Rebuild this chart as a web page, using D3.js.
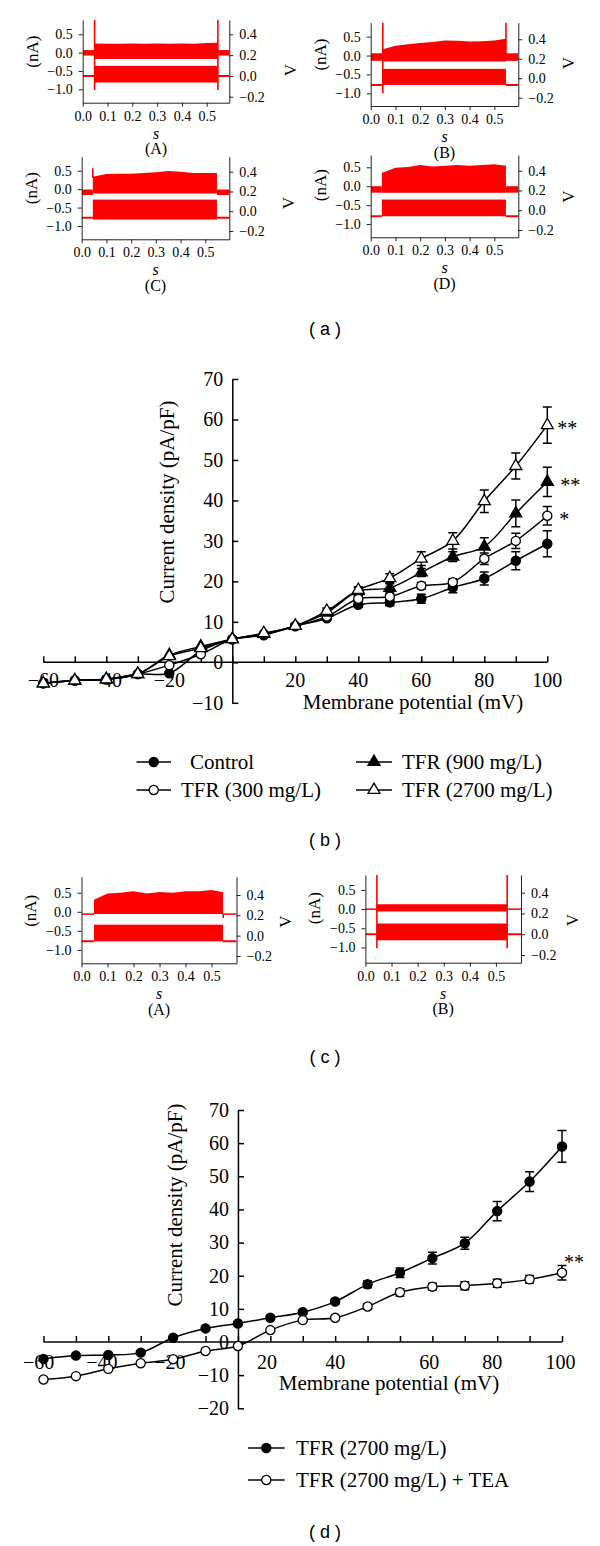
<!DOCTYPE html>
<html><head><meta charset="utf-8">
<script src="https://cdn.jsdelivr.net/npm/d3@7"></script>
<style>
body{margin:0;background:#fff}
svg{display:block}
text{font-family:"Liberation Serif","Times New Roman",serif;fill:#000}
.plab{font-family:"Liberation Sans",Arial,sans-serif}
</style></head><body>
<svg id="c" width="600" height="1546"></svg>
<script>
// ================= DATA =================
// I-V curves, panel (b)
const potentials = [-60,-50,-40,-30,-20,-10,0,10,20,30,40,50,60,70,80,90,100];
const control     = [-5.2,-4.5,-4.2,-2.9,-2.7,2.8,5.7,6.7,8.9,10.9,14.2,14.8,15.7,18.5,20.7,25.1,29.3];
const control_err = [0.3,0.3,0.3,0.3,0.4,0.4,0.4,0.4,0.5,0.5,0.6,0.8,1.1,1.3,1.6,2.2,3.2];
const tfr300      = [-5.2,-4.5,-4.2,-2.9,-0.7,2.0,5.7,7.0,9.0,11.3,15.7,16.2,18.9,19.8,25.6,30.0,36.2];
const tfr300_err  = [0.3,0.3,0.3,0.3,0.4,0.4,0.4,0.4,0.5,0.5,0.8,0.8,0.8,0.8,1.4,1.9,2.3];
const tfr900      = [-5.2,-4.5,-4.2,-2.9,1.8,3.9,5.7,7.0,9.0,12.3,17.6,18.4,22.2,26.1,28.6,36.8,44.6];
const tfr900_err  = [0.3,0.3,0.3,0.3,0.4,0.4,0.4,0.4,0.5,0.6,0.8,1.0,1.0,1.2,2.2,3.3,3.6];
const tfr2700     = [-5.2,-4.5,-4.2,-2.9,1.5,3.5,5.7,7.2,9.0,12.7,17.9,20.8,25.6,30.0,39.8,48.5,58.6];
const tfr2700_err = [0.3,0.3,0.3,0.3,0.4,0.4,0.4,0.4,0.5,0.7,0.8,1.1,1.7,2.0,2.8,3.2,4.5];
const bSeriesNames = ["Control","TFR (300 mg/L)","TFR (900 mg/L)","TFR (2700 mg/L)"];
const bYTicks = [-10,0,10,20,30,40,50,60,70];
const bXLabels = [-60,-40,-20,20,40,60,80,100];

// I-V curves, panel (d)
const tfr2700d     = [-5.1,-4.1,-3.9,-3.2,1.3,4.1,5.6,7.3,9.0,12.2,17.4,20.9,25.3,29.8,39.5,48.4,59.0];
const tfr2700d_err = [0.3,0.3,0.3,0.3,0.3,0.4,0.5,0.5,0.6,0.7,1.0,1.4,1.8,1.8,2.9,3.0,4.8];
const tea          = [-11.3,-10.3,-8.1,-6.4,-5.2,-2.7,-1.2,3.6,6.6,7.3,10.7,15.0,16.7,17.0,17.7,18.9,20.9];
const tea_err      = [0.3,0.3,0.3,0.3,0.3,0.3,0.3,0.5,0.5,0.5,0.8,1.1,1.0,1.2,1.2,1.2,2.2];
const dSeriesNames = ["TFR (2700 mg/L)","TFR (2700 mg/L) + TEA"];
const dYTicks = [-20,-10,0,10,20,30,40,50,60,70];
const dXLabelAt   = [-61.5,-42,-21,9,30,59,78.5,99.5];
const dXLabelText = ["−60","−40","−20","20","40","60","80","100"];

// Current traces (panels a and c): upper envelope of current family during step (nA)
const envT   = [0.05,0.10,0.15,0.20,0.25,0.30,0.35,0.40,0.45,0.50,0.54];
const aA_top = [0.25,0.24,0.24,0.25,0.24,0.25,0.24,0.25,0.24,0.26,0.27];
const aB_top = [0.17,0.26,0.30,0.33,0.36,0.40,0.39,0.37,0.38,0.40,0.44];
const aC_top = [0.34,0.41,0.42,0.42,0.44,0.46,0.49,0.47,0.44,0.44,0.44];
const aD_top = [0.36,0.49,0.51,0.56,0.52,0.54,0.56,0.54,0.56,0.58,0.55];
const cA_top = [0.32,0.48,0.50,0.54,0.48,0.52,0.50,0.54,0.54,0.57,0.52];
const cB_top = [0.13,0.13,0.13,0.13,0.13,0.13,0.13,0.13,0.13,0.13,0.13];
// levels: [stepStart s, stepEnd s, baseLo nA, baseHi nA, stepLo nA, holdV, stepVlo, stepVhi]
const aA_lev = [0.048,0.545,-0.08,0.07,-0.17,0.0,-0.064,0.096];
const aB_lev = [0.049,0.547,-0.14,0.06,-0.16,-0.069,-0.069,0.096];
const aC_lev = [0.045,0.547,-0.16,-0.01,-0.12,-0.067,-0.084,0.118];
const aD_lev = [0.045,0.547,-0.17,0.0,-0.17,-0.061,-0.061,0.108];
const cA_lev = [0.048,0.544,-0.08,-0.04,-0.06,-0.056,-0.056,0.108];
const cB_lev = [0.044,0.543,-0.02,0.02,-0.06,0.0,-0.058,0.103];
// capacitive spikes: [time s, low nA, high nA]
const aA_spk = [[0.048,-1.02,2],[0.545,-1.02,2]];
const aB_spk = [[0.049,-1.0,2],[0.547,0.0,2]];
const aC_spk = [[0.045,0.3,0.57]];
const aD_spk = [];
const cA_spk = [[0.545,-0.16,-0.06]];
const cB_spk = [[0.044,-1.02,2],[0.543,-1.02,2]];
const leftTicks = [-1.0,-0.5,0.0,0.5];
const rightTicks = [-0.2,0.0,0.2,0.4];
const timeTicks = [0,0.1,0.2,0.3,0.4,0.5];

// ================= DRAW =================
const svg = d3.select("#c");
const RED = "#ff0000";
const fmt1 = d3.format(".1f");

const traceLayouts = [
 {id:"aA", box:[82.7,229.3,20,102.7],   yL:[-1.365,0.89], yR:[-0.258,0.538], xMax:0.591, label:"(A)", vx:290, vy:70,    top:aA_top, lev:aA_lev, spk:aA_spk},
 {id:"aB", box:[370.7,518.3,22.7,106],  yL:[-1.336,0.87], yR:[-0.285,0.57],  xMax:0.597, label:"(B)", vx:568, vy:63,    top:aB_top, lev:aB_lev, spk:aB_spk},
 {id:"aC", box:[81.7,229.3,156.7,239.3],yL:[-1.36,0.88],  yR:[-0.284,0.552], xMax:0.597, label:"(C)", vx:288, vy:203,   top:aC_top, lev:aC_lev, spk:aC_spk},
 {id:"aD", box:[370.7,518.3,155,237.3], yL:[-1.35,0.825], yR:[-0.274,0.559], xMax:0.597, label:"(D)", vx:568, vy:196.7, top:aD_top, lev:aD_lev, spk:aD_spk},
 {id:"cA", box:[81.5,236.5,876.7,963.3],yL:[-1.35,0.92],  yR:[-0.272,0.58],  xMax:0.596, label:"(A)", vx:285, vy:921.7, top:cA_top, lev:cA_lev, spk:cA_spk},
 {id:"cB", box:[365.4,521,875,962.7],   yL:[-1.40,0.893], yR:[-0.274,0.57],  xMax:0.596, label:"(B)", vx:572, vy:920,   top:cB_top, lev:cB_lev, spk:cB_spk}
];

const defs = svg.append("defs");
traceLayouts.forEach(L => {
  const [x0,x1,y0,y1] = L.box;
  const x = d3.scaleLinear([0,L.xMax],[x0,x1]);
  const yl = d3.scaleLinear(L.yL,[y1,y0]);
  const yr = d3.scaleLinear(L.yR,[y1,y0]);
  defs.append("clipPath").attr("id","clip"+L.id).append("rect")
    .attr("x",x0).attr("y",y0).attr("width",x1-x0).attr("height",y1-y0);
  const g = svg.append("g");
  const tg = g.append("g").attr("clip-path",`url(#clip${L.id})`);
  const [t0,t1,bLo,bHi,sLo,vB,vLo,vHi] = L.lev;
  [[0,t0],[t1,L.xMax]].forEach(([a,b]) => {
    tg.append("rect").attr("x",x(a)).attr("width",x(b)-x(a))
      .attr("y",yl(bHi)).attr("height",yl(bLo)-yl(bHi)).attr("fill",RED);
  });
  const pts = [{t:t0,u:L.top[0]}].concat(envT.map((t,i)=>({t,u:L.top[i]}))).concat([{t:t1,u:L.top[L.top.length-1]}]);
  tg.append("path").datum(pts)
    .attr("d", d3.area().x(d=>x(d.t)).y0(yl(sLo)).y1(d=>yl(d.u)))
    .attr("fill",RED);
  [[0,t0],[t1,L.xMax]].forEach(([a,b]) => {
    tg.append("line").attr("x1",x(a)).attr("x2",x(b)).attr("y1",yr(vB)).attr("y2",yr(vB))
      .attr("stroke",RED).attr("stroke-width",2);
  });
  tg.append("rect").attr("x",x(t0)).attr("width",x(t1)-x(t0))
    .attr("y",yr(vHi)).attr("height",yr(vLo)-yr(vHi)).attr("fill",RED);
  L.spk.forEach(([t,lo,hi]) => {
    tg.append("line").attr("x1",x(t)).attr("x2",x(t)).attr("y1",yl(lo)).attr("y2",yl(hi))
      .attr("stroke",RED).attr("stroke-width",1.6);
  });
  const axL = d3.axisLeft(yl).tickValues(leftTicks).tickFormat(fmt1).tickSize(4).tickSizeOuter(0).tickPadding(6);
  const axR = d3.axisRight(yr).tickValues(rightTicks).tickFormat(fmt1).tickSize(4).tickSizeOuter(0).tickPadding(6);
  const axB = d3.axisBottom(x).tickValues(timeTicks).tickFormat(fmt1).tickSize(4).tickSizeOuter(0).tickPadding(4);
  [[axL,`translate(${x0},0)`],[axR,`translate(${x1},0)`],[axB,`translate(0,${y1})`]].forEach(([ax,tr]) => {
    const a = g.append("g").attr("transform",tr).call(ax);
    a.selectAll("path,line").attr("stroke","#222").attr("stroke-width",1);
    a.selectAll("text").attr("font-family","Liberation Serif, serif").attr("font-size",14).attr("fill","#000");
  });
  g.append("text").attr("transform",`translate(${x0-51},${yl(0)-1}) rotate(-90)`)
    .attr("text-anchor","middle").attr("dy","0.35em").attr("font-size",17).text("(nA)");
  g.append("text").attr("transform",`translate(${L.vx},${L.vy}) rotate(-90)`)
    .attr("text-anchor","middle").attr("dy","0.35em").attr("font-size",17).text("V");
  const cx = (x0+x1)/2;
  g.append("text").attr("x",cx).attr("y",y1+31).attr("dy","0.3em").attr("text-anchor","middle")
    .attr("font-size",16).attr("font-style","italic").text("s");
  g.append("text").attr("x",cx).attr("y",y1+46).attr("dy","0.35em").attr("text-anchor","middle")
    .attr("font-size",16).text(L.label);
});

[["( a )",329],["( b )",840],["( c )",1057],["( d )",1532]].forEach(([t,y]) => {
  svg.append("text").attr("class","plab").attr("x",325).attr("y",y).attr("dy","0.35em")
    .attr("text-anchor","middle").attr("font-size",18).text(t);
});

function markerPath(kind){
  if (kind==="circle") return d3.symbol(d3.symbolCircle).size(66)();
  return d3.symbol(d3.symbolTriangle).size(62)();
}
function ivChart(o){
  const g = svg.append("g");
  const x = o.x, y = o.y;
  const ay = g.append("g").attr("transform",`translate(${x(0)},0)`)
    .call(d3.axisLeft(y).tickValues(o.yTicks).tickSize(-6).tickSizeOuter(0).tickPadding(9).tickFormat(d=>d3.format("d")(d)));
  const ax = g.append("g").attr("transform",`translate(0,${y(0)})`)
    .call(d3.axisBottom(x).tickValues(potentials).tickSize(-6).tickSizeOuter(0).tickFormat(""));
  [ay,ax].forEach(a => {
    a.selectAll("path,line").attr("stroke","#000").attr("stroke-width",1.5);
    a.selectAll("text").attr("font-family","Liberation Serif, serif").attr("font-size",20).attr("fill","#000");
  });
  ax.select("path").attr("d",`M${x(-60)},0H${x(100)}`);
  o.xLabAt.forEach((v,i) => {
    g.append("text").attr("x",x(v)).attr("y",o.xLabY).attr("dy","0.35em").attr("text-anchor","middle")
      .attr("font-size",20).text(o.xLabText[i]);
  });
  g.append("text").attr("transform",`translate(${o.yTitle[0]},${o.yTitle[1]}) rotate(-90)`)
    .attr("text-anchor","middle").attr("dy","0.35em").attr("font-size",21).text("Current density (pA/pF)");
  g.append("text").attr("x",o.xTitle[0]).attr("y",o.xTitle[1]).attr("dy","0.35em")
    .attr("text-anchor","middle").attr("font-size",21).text("Membrane potential (mV)");
  const line = d3.line().x((d,i)=>x(potentials[i])).y(d=>y(d)).curve(d3.curveCatmullRom.alpha(0.5));
  o.series.forEach(s => {
    g.append("path").datum(s.v).attr("d",line).attr("fill","none").attr("stroke","#000").attr("stroke-width",1.5);
  });
  o.series.forEach(s => {
    s.v.forEach((v,i) => {
      const e = s.e[i], px = x(potentials[i]);
      if (e < 0.45) return;
      g.append("path").attr("d",`M${px},${y(v-e)}V${y(v+e)}M${px-4.5},${y(v-e)}H${px+4.5}M${px-4.5},${y(v+e)}H${px+4.5}`)
        .attr("stroke","#000").attr("stroke-width",1.5).attr("fill","none");
    });
  });
  o.series.forEach(s => {
    s.v.forEach((v,i) => {
      g.append("path").attr("d",markerPath(s.shape))
        .attr("transform",`translate(${x(potentials[i])},${y(v)})`)
        .attr("fill",s.fill).attr("stroke","#000").attr("stroke-width",1.3);
    });
  });
  o.stars.forEach(([t,v,dx]) => {
    g.append("text").attr("x",x(100)+dx).attr("y",y(v)+10).attr("font-size",20).text(t);
  });
  o.legend.forEach(L => {
    g.append("line").attr("x1",L.lx[0]).attr("x2",L.lx[1]).attr("y1",L.y).attr("y2",L.y)
      .attr("stroke","#000").attr("stroke-width",1.5);
    g.append("path").attr("d",markerPath(L.s.shape)).attr("transform",`translate(${(L.lx[0]+L.lx[1])/2},${L.y})`)
      .attr("fill",L.s.fill).attr("stroke","#000").attr("stroke-width",1.3);
    g.append("text").attr("x",L.tx).attr("y",L.y).attr("dy","0.35em").attr("font-size",21).text(L.s.name);
  });
}

const bSeries = [
  {name:bSeriesNames[0], v:control, e:control_err, shape:"circle", fill:"#000"},
  {name:bSeriesNames[1], v:tfr300, e:tfr300_err, shape:"circle", fill:"#fff"},
  {name:bSeriesNames[2], v:tfr900, e:tfr900_err, shape:"triangle", fill:"#000"},
  {name:bSeriesNames[3], v:tfr2700, e:tfr2700_err, shape:"triangle", fill:"#fff"}
];
ivChart({
  x: d3.scaleLinear([-60,100],[43.3,547.3]),
  y: d3.scaleLinear([-10,70],[702.8,379]),
  yTicks: bYTicks,
  xLabAt: bXLabels, xLabText: bXLabels.map(v=>d3.format("d")(v)), xLabY: 680,
  yTitle: [167,502], xTitle: [413,702],
  series: bSeries,
  stars: [["**",58.6,10],["**",44.6,13],["*",36.2,12]],
  legend: [
    {s:bSeries[0], lx:[136.5,171], y:762, tx:190},
    {s:bSeries[1], lx:[136.5,171], y:790, tx:181},
    {s:bSeries[2], lx:[356,392], y:762, tx:402},
    {s:bSeries[3], lx:[356,392], y:790, tx:402}
  ]
});

const dSeries = [
  {name:dSeriesNames[0], v:tfr2700d, e:tfr2700d_err, shape:"circle", fill:"#000"},
  {name:dSeriesNames[1], v:tea, e:tea_err, shape:"circle", fill:"#fff"}
];
ivChart({
  x: d3.scaleLinear([-60,100],[43.5,562]),
  y: d3.scaleLinear([-20,70],[1408.3,1110]),
  yTicks: dYTicks,
  xLabAt: dXLabelAt, xLabText: dXLabelText, xLabY: 1362,
  yTitle: [175,1205], xTitle: [389,1383],
  series: dSeries,
  stars: [["**",25,2]],
  legend: [
    {s:dSeries[0], lx:[248,284.6], y:1448, tx:296},
    {s:dSeries[1], lx:[248,284.6], y:1480, tx:296}
  ]
});
</script>
</body></html>
